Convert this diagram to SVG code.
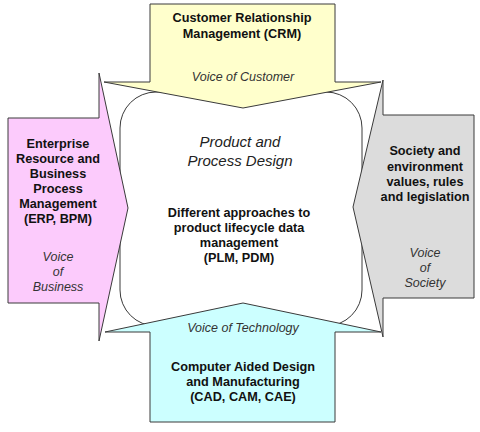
<svg xmlns="http://www.w3.org/2000/svg" width="480" height="432" viewBox="0 0 480 432">
<style>
.shape{stroke:#3a3a3a;stroke-width:1;stroke-linejoin:miter}
.b{font-family:"Liberation Sans",Arial,sans-serif;font-size:12.7px;font-weight:bold;fill:#111;text-anchor:middle}
.i{font-family:"Liberation Sans",Arial,sans-serif;font-size:12.5px;font-style:italic;fill:#333;text-anchor:middle}
.t{font-family:"Liberation Sans",Arial,sans-serif;font-size:15px;font-style:italic;fill:#222;text-anchor:middle}
</style>
<rect width="480" height="432" fill="#fff"/>
<g id="center">
<rect class="shape" x="120" y="92" width="242" height="234" rx="36" ry="36" fill="#fff"/>
<text class="t" x="240" y="147">Product and</text>
<text class="t" x="240" y="166">Process Design</text>
<text class="b" x="239" y="217">Different approaches to</text>
<text class="b" x="239" y="232">product lifecycle data</text>
<text class="b" x="239" y="247">management</text>
<text class="b" x="239" y="262">(PLM, PDM)</text>
</g>
<g id="crm">
<polygon class="shape" fill="#ffffcc" points="150,4 335,4 335,82 381,82 243,108 104,82 150,82"/>
<text class="b" x="242" y="22">Customer Relationship</text>
<text class="b" x="242" y="38">Management (CRM)</text>
<text class="i" x="243" y="81">Voice of Customer</text>
</g>
<g id="erp">
<polygon class="shape" fill="#fccbfc" points="8,118 99,118 99,73 128,208 99,341 99,303 8,303"/>
<text class="b" x="58" y="148">Enterprise</text>
<text class="b" x="58" y="163">Resource and</text>
<text class="b" x="58" y="178">Business</text>
<text class="b" x="58" y="193">Process</text>
<text class="b" x="58" y="208">Management</text>
<text class="b" x="58" y="223">(ERP, BPM)</text>
<text class="i" x="58" y="261">Voice</text>
<text class="i" x="58" y="276">of</text>
<text class="i" x="58" y="291">Business</text>
</g>
<g id="society">
<polygon class="shape" fill="#dcdcdc" points="474,115 383,115 383,80 353,207 383,337 383,298 474,298"/>
<text class="b" x="425" y="155">Society and</text>
<text class="b" x="425" y="171">environment</text>
<text class="b" x="425" y="186">values, rules</text>
<text class="b" x="425" y="201">and legislation</text>
<text class="i" x="425" y="257">Voice</text>
<text class="i" x="425" y="272">of</text>
<text class="i" x="425" y="287">Society</text>
</g>
<g id="cad">
<polygon class="shape" fill="#ccffff" points="150,422 335,422 335,332 381,332 243,303 105,332 150,332"/>
<text class="i" x="243" y="332">Voice of Technology</text>
<text class="b" x="243" y="371">Computer Aided Design</text>
<text class="b" x="243" y="386">and Manufacturing</text>
<text class="b" x="243" y="401">(CAD, CAM, CAE)</text>
</g>
<g id="connectors"/>
</svg>
